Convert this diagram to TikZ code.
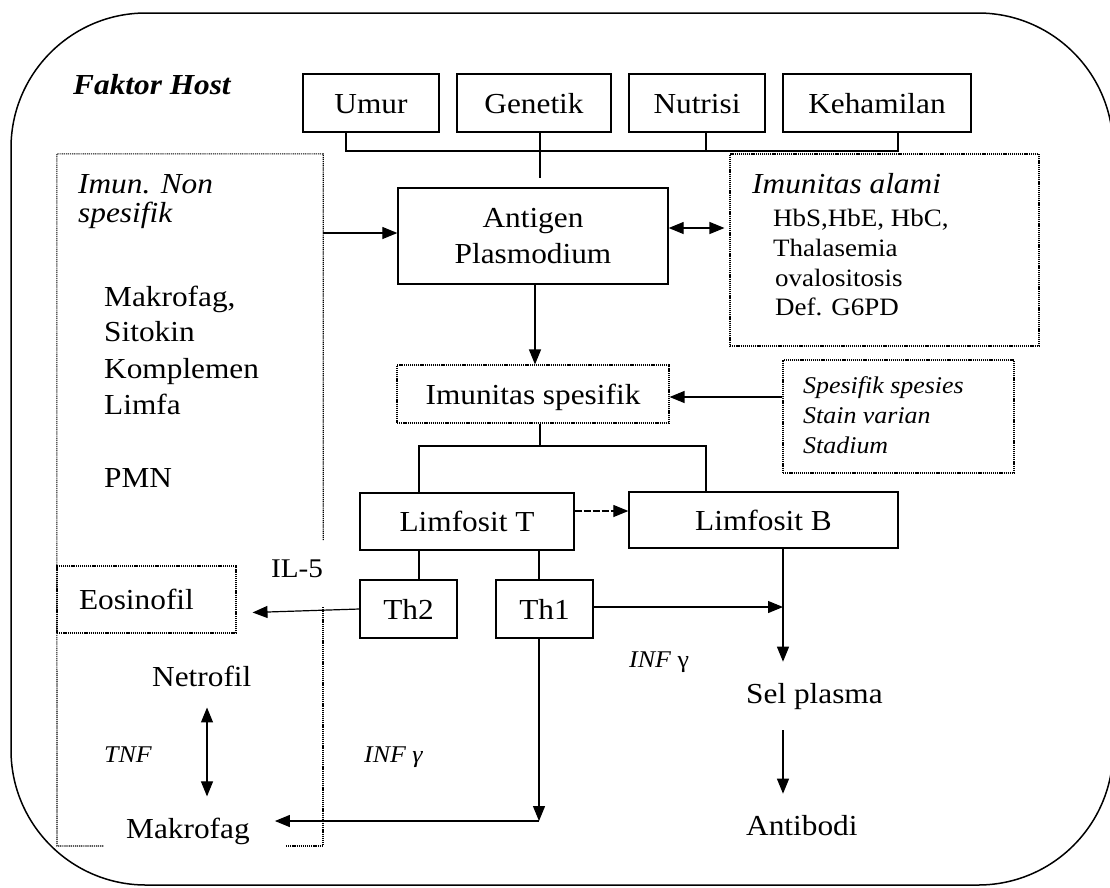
\documentclass[tikz,border=0pt]{standalone}
\usepackage{fontspec}
\setmainfont{Liberation Serif}[FakeStretch=1.08]
\usetikzlibrary{arrows.meta}
\newcommand\fsM{\fontsize{29}{36}\selectfont}
\newcommand\fsS{\fontsize{25}{30}\selectfont}
\newcommand\fsT{\fontsize{24}{30}\selectfont}
\begin{document}
\begin{tikzpicture}[x=1pt,y=-1pt,
  every node/.style={inner sep=0pt},
  dotln/.style={line width=1.1pt, dash pattern=on 1.2pt off 0.9pt},
  box/.style={draw, line width=1.3pt, minimum height=58pt, text height=20pt, text depth=0pt, font=\fsM},
  dbox/.style={draw, dotln},
  conn/.style={line width=1.2pt},
  arr/.style={conn, -{Triangle[length=15pt,width=12pt]}},
  darr/.style={conn, {Triangle[length=15pt,width=12pt]}-{Triangle[length=15pt,width=12pt]}},
  lbl/.style={anchor=base west, inner sep=0pt},
  ftxt/.style={anchor=base west, inner xsep=0pt, inner ysep=21pt, font=\fsM},
]
\useasboundingbox (0,0) rectangle (1110,887);
% outer frame
\draw[line width=1.5pt, rounded corners=135pt] (11,13) rectangle (1113,885);

% title
\node[lbl, font=\fsM\bfseries\itshape] (fh) at (73,94) {Faktor Host};

% top factor boxes
\node[box, minimum width=136pt] (umur) at (371,103) {Umur};
\node[box, minimum width=154pt] (gen) at (534,103) {Genetik};
\node[box, minimum width=136pt] (nut) at (697,103) {Nutrisi};
\node[box, minimum width=188pt] (keh) at (877,103) {Kehamilan};

% main boxes
\node[draw, line width=1.3pt, minimum width=270pt, minimum height=96pt, align=center, font=\fsM] (ant) at (533,236) {Antigen\\Plasmodium};
\node[dbox, minimum width=272pt, minimum height=58pt, text height=20pt, text depth=0pt, font=\fsM] (ispes) at (533,394) {Imunitas spesifik};
\node[box, minimum width=214pt, minimum height=57pt] (limT) at (467,521.5) {Limfosit T};
\node[box, minimum width=269pt, minimum height=56pt] (limB) at (763.5,520) {Limfosit B};
\node[box, minimum width=97pt] (th2) at (408.5,609) {Th2};
\node[box, minimum width=97pt] (th1) at (544.5,609) {Th1};
\node[dbox, minimum width=179pt, minimum height=67pt, text width=135pt, inner xsep=22pt, align=left, text height=20pt, text depth=0pt, font=\fsM] (eos) at (146.5,599.5) {Eosinofil};

% dotted boxes
\node[dbox, minimum width=309pt, minimum height=192pt] (alami) at (884.5,250) {};
\node[dbox, minimum width=231pt, minimum height=113pt] (spes) at (898.5,416.5) {};
\node[minimum width=266pt, minimum height=386pt] (imun) at (190,347) {};
\draw[dotln] (imun.south east) -- (imun.north east) -- (imun.north west) -- (57,846) -- (104,846);
\draw[dotln] (286,846) -- (323,846) -- (323,607);

% left texts
\node[lbl, font=\fsM\itshape] (imn1) at (78,193) {Imun. Non};
\node[lbl, font=\fsM\itshape] (imn2) at (78,222) {spesifik};
\node[lbl, font=\fsM] (l1) at (104,306) {Makrofag,};
\node[lbl, font=\fsM] (l2) at (104,341) {Sitokin};
\node[lbl, font=\fsM] (l3) at (104,378) {Komplemen};
\node[lbl, font=\fsM] (l4) at (104,414) {Limfa};
\node[lbl, font=\fsM] (l5) at (104,487) {PMN};

% imunitas alami texts
\node[lbl, font=\fsM\itshape] (a1) at (752,193) {Imunitas alami};
\node[lbl, font=\fsS] (a2) at (773,226) {HbS,HbE, HbC,};
\node[lbl, font=\fsS] (a3) at (773,256) {Thalasemia};
\node[lbl, font=\fsS] (a4) at (775,286) {ovalositosis};
\node[lbl, font=\fsS] (a5) at (775,315) {Def. G6PD};

% spesifik texts
\node[lbl, font=\fsT\itshape] (s1) at (803,393) {Spesifik spesies};
\node[lbl, font=\fsT\itshape] (s2) at (803,423) {Stain varian};
\node[lbl, font=\fsT\itshape] (s3) at (803,453) {Stadium};

% free texts
\node[ftxt] (netro) at (152,686) {Netrofil};
\node[ftxt] (makro) at (126,838) {Makrofag};
\node[ftxt] (selp) at (746,703) {Sel plasma};
\node[ftxt] (antib) at (746,835) {Antibodi};
\node[lbl, font=\fontsize{27}{30}\selectfont] (il5) at (271,577) {IL-5};
\node[lbl, font=\fsT\itshape] (tnf) at (104,762) {TNF};
\node[lbl, font=\fsT\itshape] (infL) at (364,762) {INF γ};
\node[lbl, font=\fsT] (infR) at (629,667) {\textit{INF} γ};

% helper coordinates
\coordinate (busL) at (346,151);
\coordinate (busR) at (898,151);
\coordinate (gx) at (540,178);
\coordinate (nx) at (706,151);
\coordinate (ya) at (0,233);
\coordinate (yb) at (0,228);
\coordinate (xc) at (535,0);
\coordinate (yd) at (0,397);
\coordinate (sx) at (540,446);
\coordinate (sL) at (419,446);
\coordinate (sR) at (706,446);
\coordinate (ye) at (0,511);
\coordinate (xf) at (419,0);
\coordinate (xg) at (539,0);
\coordinate (yh) at (0,613);
\coordinate (bj) at (783,607);
\coordinate (xb) at (783,0);
\coordinate (mj) at (539,821);
\coordinate (xn) at (207,0);

% connectors
\draw[conn] (umur.south -| busL) -- (busL) -- (busR) -- (keh.south -| busR);
\draw[conn] (gen.south -| gx) -- (gx);
\draw[conn] (nut.south -| nx) -- (nx);
\draw[arr] (imun.east |- ya) -- (ant.west |- ya);
\draw[darr, shorten >=5pt] (ant.east |- yb) -- (alami.west |- yb);
\draw[arr] (ant.south -| xc) -- (ispes.north -| xc);
\draw[arr] (spes.west |- yd) -- (ispes.east |- yd);
\draw[conn] (ispes.south -| sx) -- (sx);
\draw[conn] (limT.north -| sL) -- (sL) -- (sR) -- (limB.north -| sR);
\draw[arr, dash pattern=on 7pt off 2pt] (limT.east |- ye) -- (limB.west |- ye);
\draw[conn] (limT.south -| xf) -- (th2.north -| xf);
\draw[conn] (limT.south -| xg) -- (th1.north -| xg);
\draw[arr, shorten >=16pt] (th2.west) -- (eos.east |- yh);
\draw[arr] (th1.east |- bj) -- (bj);
\draw[arr] (limB.south -| xb) -- (selp.north -| xb);
\draw[arr] (selp.south -| xb) -- (antib.north -| xb);
\draw[arr] (th1.south -| mj) -- (mj);
\draw[arr, shorten >=25pt] (mj) -- (makro.east |- mj);
\draw[darr] (netro.south -| xn) -- (makro.north -| xn);
\end{tikzpicture}
\end{document}
